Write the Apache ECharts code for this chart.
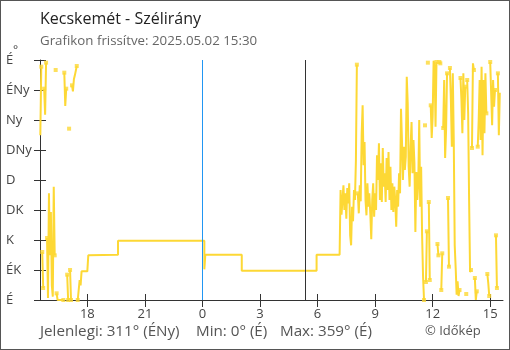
<!DOCTYPE html>
<html>
<head>
<meta charset="utf-8">
<script src="https://cdn.jsdelivr.net/npm/echarts@6/dist/echarts.min.js"></script>
<style>
  html, body { margin: 0; padding: 0; background: #fff; }
  #wrap { position: relative; width: 510px; height: 350px; }
  #chart { width: 510px; height: 350px; }
  #frame { position: absolute; left: 0; top: 0; width: 510px; height: 350px;
           box-sizing: border-box; border: 1px solid #555; pointer-events: none; }
</style>
</head>
<body>
<div id="wrap"><div id="chart"></div><div id="frame"></div></div>
<script>
// Wind direction, Kecskemét, 2025-05-01 15:30 – 2025-05-02 15:30
const directionNames = ['É', 'ÉK', 'K', 'DK', 'D', 'DNy', 'Ny', 'ÉNy', 'É'];
const hourTicks = [-6, -3, 0, 3, 6, 9, 12, 15];
const sampleMinutes = 3;

// Gusty afternoon, 3-minute samples (degrees)
const afternoonStart = '05-01 15:33';
const afternoonDirs = [
  247, 350, 72, 18, 317, 278, 356, 93, 3, 160,
  67, 132, 22, 5, 170, 67, 345, 10, 0, 2,
  0, 1, 0, 0, 0, 341, 291, 317, 38, 0,
  257, 45, 0, 322, 313, 331, 337, 337, 351, 0,
  0, 30, 22, 43, 43, 43, 43, 43, 43, 43, 67
];

// Calm evening and night: only the changes
const calmTimes = ['05-01 18:06', '05-01 19:36', '05-02 00:06', '05-02 00:09',
                   '05-02 02:03', '05-02 05:57', '05-02 07:09'];
const calmDirs = [68, 89, 46, 68, 44, 68, 68];

// Windy morning and midday, 3-minute samples (degrees)
const morningStart = '05-02 07:12';
const morningDirs = [
  165, 128, 150, 172, 135, 160, 122, 168, 145, 175,
  97, 82, 140, 118, 165, 150, 210, 353, 160, 130,
  172, 148, 249, 292, 202, 237, 150, 127, 175, 140,
  160, 130, 91, 150, 175, 125, 160, 135, 217, 180,
  235, 150, 205, 147, 228, 170, 190, 147, 213, 165,
  222, 150, 200, 135, 175, 132, 170, 150, 110, 165,
  140, 190, 160, 287, 240, 180, 230, 195, 215, 335,
  295, 200, 170, 230, 267, 190, 240, 205, 102, 192,
  150, 175, 270, 140, 200, 97, 35, 0, 262, 27,
  103, 356, 147, 30, 292, 243, 275, 359, 352, 260,
  357, 84, 67, 357, 355, 15, 70, 258, 330,
  213, 255, 340, 153, 50, 348, 300, 230, 340, 240,
  82, 48, 8, 28, 6, 15, 333, 300, 250, 340,
  270, 320, 9, 330, 280, 150, 42, 45, 228, 355,
  345, 33, 0, 13, 230, 270, 330, 240, 350, 217,
  330, 250, 340, 280, 39, 25, 6, 357, 355, 262,
  330, 290, 315, 97, 18, 340, 247, 311
];

const axisStart = '05-01 15:32';
const axisEnd = '05-02 15:40';
const midnight = '05-02 00:00';
const sunrise = '05-02 05:22';

const YELLOW = '#fdd835';
const FONT = '"Open Sans", "Noto Sans", sans-serif';

// hours relative to midnight of 05-02
function toHours(stamp) {
  const [d, t] = stamp.split(' ');
  const day = Number(d.split('-')[1]);
  const [h, m] = t.split(':').map(Number);
  return (day - 2) * 24 + h + m / 60;
}

const points = [];
afternoonDirs.forEach((v, i) => points.push([toHours(afternoonStart) + i * sampleMinutes / 60, v]));
calmDirs.forEach((v, i) => points.push([toHours(calmTimes[i]), v]));
morningDirs.forEach((v, i) => points.push([toHours(morningStart) + i * sampleMinutes / 60, v]));

// Break the trace where the direction wraps across north
const wraps = points.map((p, i) => i > 0 && Math.abs(p[1] - points[i - 1][1]) > 180);
const lineData = [];
const markerData = [];
points.forEach((p, i) => {
  if (wraps[i]) lineData.push([(p[0] + points[i - 1][0]) / 2, '-']);
  lineData.push(p);
  const nextWraps = i < points.length - 1 && wraps[i + 1];
  if (wraps[i] || nextWraps) markerData.push(p);
});

const hourLabel = v => String(((Math.round(v) % 24) + 24) % 24);

const chart = echarts.init(document.getElementById('chart'), null, { renderer: 'canvas' });
chart.setOption({
  animation: false,
  grid: { left: 40, right: 7, top: 60, bottom: 50, containLabel: false },
  xAxis: [
    {
      type: 'value', position: 'bottom', min: toHours(axisStart), max: toHours(axisEnd),
      axisLine: { show: true, onZero: false, lineStyle: { color: '#333', width: 1 } },
      axisTick: { show: true, customValues: hourTicks, length: 7, lineStyle: { color: '#333' } },
      axisLabel: { customValues: hourTicks, formatter: hourLabel, color: '#444',
                   fontSize: 13, fontFamily: FONT, margin: 8 },
      splitLine: { show: false }
    },
    {
      type: 'value', position: 'bottom', min: toHours(axisStart), max: toHours(axisEnd),
      axisLine: { show: false, onZero: false },
      axisTick: { show: true, inside: true, customValues: hourTicks, length: 6, lineStyle: { color: '#333' } },
      axisLabel: { show: false },
      splitLine: { show: false }
    }
  ],
  yAxis: [
    {
      type: 'value', position: 'left', min: 0, max: 360, interval: 45,
      axisLine: { show: true, onZero: false, lineStyle: { color: '#333', width: 1 } },
      axisTick: { show: true, length: 6, lineStyle: { color: '#333' } },
      axisLabel: { formatter: v => directionNames[Math.round(v / 45)], align: 'left',
                   margin: 34, color: '#444', fontSize: 13, fontFamily: FONT },
      splitLine: { show: false }
    },
    {
      type: 'value', position: 'left', min: 0, max: 360, interval: 45,
      axisLine: { show: false, onZero: false },
      axisTick: { show: true, inside: true, length: 6, lineStyle: { color: '#333' } },
      axisLabel: { show: false },
      splitLine: { show: false }
    }
  ],
  series: [
    {
      type: 'line', xAxisIndex: 0, yAxisIndex: 0, data: lineData, step: 'end',
      showSymbol: false, connectNulls: false,
      lineStyle: { color: YELLOW, width: 2 },
      markLine: {
        silent: true, symbol: ['none', 'none'], label: { show: false },
        data: [
          { xAxis: toHours(midnight), lineStyle: { color: '#2196f3', width: 1, type: 'solid' } },
          { xAxis: toHours(sunrise), lineStyle: { color: '#333', width: 1, type: 'solid' } }
        ]
      },
      z: 3
    },
    {
      type: 'scatter', xAxisIndex: 0, yAxisIndex: 0, data: markerData,
      symbol: 'rect', symbolSize: 4, itemStyle: { color: YELLOW }, z: 4
    }
  ],
  graphic: [
    { type: 'text', x: 40, y: 19, style: { text: 'Kecskemét - Szélirány', fill: '#222',
      font: '16px ' + FONT, verticalAlign: 'middle' } },
    { type: 'text', x: 40, y: 41, style: { text: 'Grafikon frissítve: 2025.05.02 15:30', fill: '#666',
      font: '13.3px ' + FONT, verticalAlign: 'middle' } },
    { type: 'text', x: 13, y: 51, style: { text: '°', fill: '#444',
      font: '12px ' + FONT, verticalAlign: 'middle' } },
    { type: 'text', x: 40, y: 332, style: { text: 'Jelenlegi: 311° (ÉNy)', fill: '#555',
      font: '15.2px ' + FONT, verticalAlign: 'middle' } },
    { type: 'text', x: 196, y: 332, style: { text: 'Min: 0° (É)', fill: '#555',
      font: '15.2px ' + FONT, verticalAlign: 'middle' } },
    { type: 'text', x: 280, y: 332, style: { text: 'Max: 359° (É)', fill: '#555',
      font: '15.2px ' + FONT, verticalAlign: 'middle' } },
    { type: 'text', x: 425, y: 331, style: { text: '© Időkép', fill: '#555',
      font: '13px ' + FONT, verticalAlign: 'middle' } }
  ]
});
</script>
</body>
</html>
